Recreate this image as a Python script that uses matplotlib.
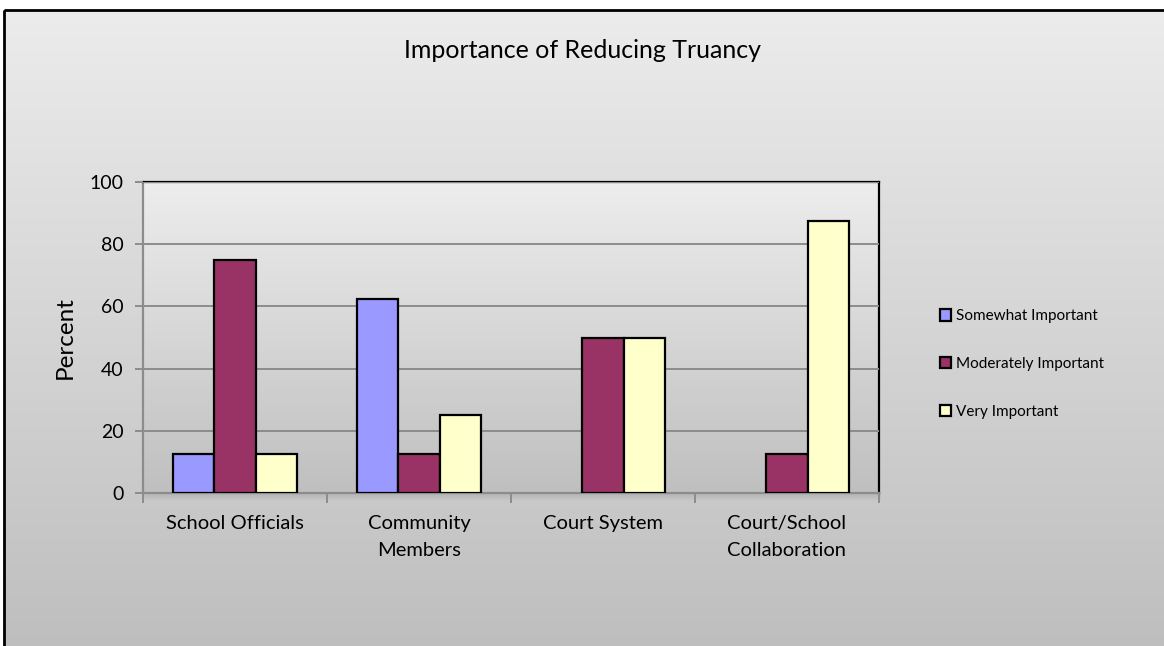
import numpy as np
import matplotlib
matplotlib.use("Agg")
import matplotlib.pyplot as plt
from matplotlib.patches import Rectangle, Patch

plt.rcParams['font.family'] = ['Lato', 'DejaVu Sans']

categories = ["School Officials", "Community\nMembers", "Court System", "Court/School\nCollaboration"]
series_names = ["Somewhat Important", "Moderately Important", "Very Important"]
somewhat = [12.5, 62.5, 0, 0]
moderately = [75, 12.5, 50, 12.5]
very = [12.5, 25, 50, 87.5]
series_values = [somewhat, moderately, very]
colors = ["#9999FF", "#993366", "#FFFFCC"]
yticks = [0, 20, 40, 60, 80, 100]

W, H = 1164, 646
fig = plt.figure(figsize=(W / 100, H / 100), dpi=100)
fig.patch.set_facecolor("white")

# chart-area background: vertical gray gradient inside a black frame
bg = fig.add_axes([0, 0, 1, 1], zorder=-10)
bg.set_xlim(0, W)
bg.set_ylim(H, 0)
bg.axis("off")
grad = np.linspace(0, 1, 256).reshape(-1, 1)
top_c = np.array([0.925, 0.925, 0.925])
bot_c = np.array([0.745, 0.745, 0.745])
img = top_c + (bot_c - top_c) * grad
bg.imshow(img[:, None, :].repeat(2, axis=1), extent=(4, W + 5, H + 5, 10),
          aspect="auto", interpolation="bilinear")
bg.add_patch(Rectangle((4, 10), W + 10, H + 10, fill=False, edgecolor="black", lw=2))
# soft shadow under the plot floor
for i in range(7):
    bg.add_patch(Rectangle((143, 493 + i), 738, 1, facecolor="black",
                           alpha=0.10 * (1 - i / 7), lw=0))

ax = fig.add_axes([143 / W, 1 - 493 / H, (879 - 143) / W, (493 - 182) / H])
n = len(categories)
x = np.arange(n)
ax.set_xlim(-0.5, n - 0.5)
ax.set_ylim(0, 100)

# plot-area gradient
pg_top = np.array([0.93, 0.93, 0.93])
pg_bot = np.array([0.75, 0.75, 0.75])
pimg = pg_top + (pg_bot - pg_top) * grad
ax.imshow(pimg[:, None, :].repeat(2, axis=1), extent=(-0.5, n - 0.5, 0, 100),
          aspect="auto", interpolation="bilinear", zorder=0)

width = 0.223
for k, (vals, col) in enumerate(zip(series_values, colors)):
    offs = (k - 1) * width
    lws = [1.6 if v > 0 else 0 for v in vals]
    ax.bar(x + offs, vals, width=width, color=col, edgecolor="black",
           linewidth=lws, zorder=3)

ax.set_yticks(yticks)
ax.set_yticklabels([str(t) for t in yticks], fontsize=14)
ax.yaxis.grid(True, color="#8c8c8c", linewidth=1.4, zorder=1)
ax.set_axisbelow(False)
for gl in ax.get_ygridlines():
    gl.set_zorder(1)

ax.set_xticks(x)
ax.set_xticklabels(categories, fontsize=14.5, linespacing=1.72)
ax.set_xticks(np.arange(n + 1) - 0.5, minor=True)
ax.tick_params(axis="x", which="major", length=0, pad=16)
ax.tick_params(axis="x", which="minor", length=7, color="#8c8c8c", width=1.4, direction="out")
ax.tick_params(axis="y", length=6, color="#8c8c8c", width=1.4, pad=8)

ax.set_ylabel("Percent", fontsize=17.5, labelpad=10)

for side in ("left", "bottom"):
    ax.spines[side].set_color("#8c8c8c")
    ax.spines[side].set_linewidth(1.6)
for side in ("top", "right"):
    ax.spines[side].set_color("black")
    ax.spines[side].set_linewidth(1.6)

fig.text(582 / W, 1 - 51 / H, "Importance of Reducing Truancy", ha="center", va="center",
         fontsize=18)

handles = [Patch(facecolor=c, edgecolor="black", linewidth=1.6) for c in colors]
fig.legend(handles, series_names, loc="center left", bbox_to_anchor=(932 / W, 1 - 364 / H),
           frameon=False, fontsize=11, labelspacing=2.2, handlelength=0.75,
           handleheight=0.75, handletextpad=0.3, borderpad=0)

fig.savefig("out.png", dpi=100, facecolor="white")
